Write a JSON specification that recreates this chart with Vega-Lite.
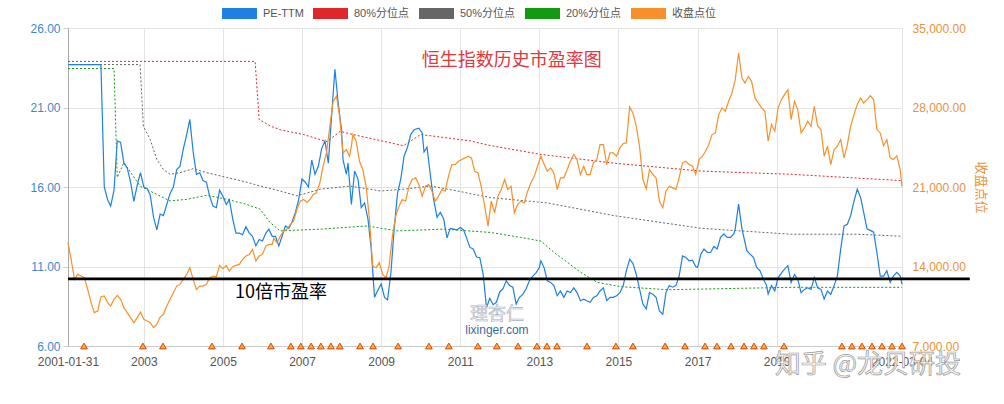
{
  "$schema": "https://vega.github.io/schema/vega-lite/v6.json",
  "width": 834,
  "height": 318,
  "autosize": {"type": "none"},
  "padding": {"left": 68, "top": 28, "right": 102, "bottom": 58},
  "background": "white",
  "config": {
    "font": "Liberation Sans, Noto Sans CJK SC",
    "view": {"stroke": null},
    "legend": {
      "orient": "none",
      "legendX": 157,
      "legendY": -29,
      "direction": "horizontal",
      "gridAlign": "none",
      "title": null,
      "labelFontSize": 11,
      "labelColor": "#555555",
      "labelFont": "Liberation Sans, Noto Sans CJK SC",
      "labelOffset": 9,
      "columnPadding": -13,
      "symbolType": "M-2,0H2",
      "symbolSize": 306,
      "symbolStrokeWidth": 11,
      "symbolDash": [1, 0],
      "symbolOpacity": 1
    }
  },
  "datasets": {
    "pe": [
      {"date":"2001-01-31","v":23.7},{"date":"2001-12-01","v":23.7},{"date":"2002-01-01","v":16.0},{"date":"2002-02-01","v":15.2},{"date":"2002-03-01","v":14.8},{"date":"2002-04-01","v":15.8},{"date":"2002-05-01","v":18.9},{"date":"2002-06-01","v":18.8},{"date":"2002-07-01","v":17.5},{"date":"2002-08-01","v":17.2},{"date":"2002-09-01","v":16.3},{"date":"2002-10-01","v":15.1},{"date":"2002-11-01","v":16.1},{"date":"2002-12-01","v":16.9},
      {"date":"2003-01-01","v":16.0},{"date":"2003-02-01","v":15.9},{"date":"2003-03-01","v":15.5},{"date":"2003-04-01","v":14.1},{"date":"2003-05-01","v":13.3},{"date":"2003-06-01","v":14.3},{"date":"2003-07-01","v":14.2},{"date":"2003-08-01","v":14.9},{"date":"2003-09-01","v":15.6},{"date":"2003-10-01","v":16.0},{"date":"2003-11-01","v":17.1},{"date":"2003-12-01","v":17.3},
      {"date":"2004-01-01","v":18.4},{"date":"2004-02-01","v":19.3},{"date":"2004-03-01","v":20.25},{"date":"2004-04-01","v":18.2},{"date":"2004-05-01","v":16.8},{"date":"2004-06-01","v":16.9},{"date":"2004-07-01","v":16.4},{"date":"2004-08-01","v":16.3},{"date":"2004-09-01","v":15.4},{"date":"2004-10-01","v":14.8},{"date":"2004-11-01","v":14.7},{"date":"2004-12-01","v":15.8},
      {"date":"2005-01-01","v":15.4},{"date":"2005-02-01","v":14.9},{"date":"2005-03-01","v":15.2},{"date":"2005-04-01","v":14.0},{"date":"2005-05-01","v":13.1},{"date":"2005-06-01","v":13.1},{"date":"2005-07-01","v":13.0},{"date":"2005-08-01","v":13.5},{"date":"2005-09-01","v":13.1},{"date":"2005-10-01","v":12.9},{"date":"2005-11-01","v":12.3},{"date":"2005-12-01","v":12.7},
      {"date":"2006-01-01","v":12.6},{"date":"2006-02-01","v":13.1},{"date":"2006-03-01","v":13.35},{"date":"2006-04-01","v":12.9},{"date":"2006-05-01","v":12.9},{"date":"2006-06-01","v":12.3},{"date":"2006-07-01","v":12.9},{"date":"2006-08-01","v":13.55},{"date":"2006-09-01","v":13.4},{"date":"2006-10-01","v":13.8},{"date":"2006-11-01","v":14.4},{"date":"2006-12-01","v":15.2},
      {"date":"2007-01-01","v":16.5},{"date":"2007-02-01","v":16.3},{"date":"2007-03-01","v":16.0},{"date":"2007-04-01","v":17.7},{"date":"2007-05-01","v":16.8},{"date":"2007-06-01","v":17.3},{"date":"2007-07-01","v":18.4},{"date":"2007-08-01","v":18.9},{"date":"2007-09-01","v":17.5},{"date":"2007-10-01","v":20.45},{"date":"2007-11-01","v":23.4},{"date":"2007-12-01","v":21.3},
      {"date":"2008-01-01","v":19.6},{"date":"2008-01-15","v":17.7},{"date":"2008-02-15","v":16.8},{"date":"2008-03-01","v":17.5},{"date":"2008-04-01","v":14.9},{"date":"2008-05-01","v":17.0},{"date":"2008-06-01","v":16.5},{"date":"2008-07-01","v":14.7},{"date":"2008-08-01","v":15.0},{"date":"2008-09-01","v":14.0},{"date":"2008-10-01","v":12.1},{"date":"2008-11-01","v":9.06},{"date":"2008-12-01","v":9.5},
      {"date":"2009-01-01","v":9.9},{"date":"2009-02-01","v":9.06},{"date":"2009-03-01","v":8.9},{"date":"2009-04-01","v":10.6},{"date":"2009-05-01","v":13.35},{"date":"2009-06-01","v":15.6},{"date":"2009-07-01","v":16.5},{"date":"2009-08-01","v":17.95},{"date":"2009-09-01","v":18.5},{"date":"2009-10-01","v":19.3},{"date":"2009-11-01","v":19.6},{"date":"2009-12-15","v":19.7},
      {"date":"2010-01-15","v":19.4},{"date":"2010-02-01","v":18.2},{"date":"2010-03-01","v":18.5},{"date":"2010-04-01","v":16.7},{"date":"2010-05-01","v":15.2},{"date":"2010-06-01","v":14.1},{"date":"2010-07-01","v":14.4},{"date":"2010-08-01","v":14.0},{"date":"2010-09-01","v":12.8},{"date":"2010-10-01","v":13.4},{"date":"2010-11-01","v":13.35},{"date":"2010-12-01","v":13.3},
      {"date":"2011-01-01","v":13.45},{"date":"2011-02-01","v":13.3},{"date":"2011-03-01","v":12.8},{"date":"2011-04-01","v":12.2},{"date":"2011-05-01","v":12.1},{"date":"2011-06-01","v":11.6},{"date":"2011-07-01","v":11.55},{"date":"2011-08-01","v":10.5},{"date":"2011-09-01","v":8.4},{"date":"2011-10-01","v":9.0},{"date":"2011-11-01","v":8.6},{"date":"2011-12-01","v":8.75},
      {"date":"2012-01-01","v":9.4},{"date":"2012-02-01","v":9.6},{"date":"2012-03-01","v":10.1},{"date":"2012-04-01","v":9.8},{"date":"2012-05-01","v":9.7},{"date":"2012-06-01","v":8.64},{"date":"2012-07-01","v":9.06},{"date":"2012-08-01","v":9.25},{"date":"2012-09-01","v":9.6},{"date":"2012-10-01","v":10.1},{"date":"2012-11-01","v":10.4},{"date":"2012-12-01","v":10.6},
      {"date":"2013-01-01","v":10.94},{"date":"2013-01-15","v":11.36},{"date":"2013-02-15","v":10.9},{"date":"2013-03-15","v":10.1},{"date":"2013-04-15","v":10.0},{"date":"2013-05-15","v":9.8},{"date":"2013-06-15","v":9.16},{"date":"2013-07-15","v":9.46},{"date":"2013-08-15","v":9.06},{"date":"2013-09-15","v":9.46},{"date":"2013-10-15","v":9.36},{"date":"2013-11-15","v":9.66},{"date":"2013-12-15","v":9.36},
      {"date":"2014-01-15","v":8.85},{"date":"2014-02-15","v":8.95},{"date":"2014-03-15","v":8.85},{"date":"2014-04-15","v":8.75},{"date":"2014-05-15","v":9.06},{"date":"2014-06-15","v":9.16},{"date":"2014-07-15","v":9.46},{"date":"2014-08-15","v":9.66},{"date":"2014-09-15","v":8.85},{"date":"2014-10-15","v":9.06},{"date":"2014-11-15","v":9.06},{"date":"2014-12-15","v":9.16},
      {"date":"2015-01-15","v":9.36},{"date":"2015-02-15","v":9.8},{"date":"2015-03-15","v":10.73},{"date":"2015-04-15","v":11.46},{"date":"2015-05-15","v":11.2},{"date":"2015-06-15","v":10.5},{"date":"2015-07-15","v":9.6},{"date":"2015-08-15","v":8.64},{"date":"2015-09-15","v":8.33},{"date":"2015-10-15","v":9.36},{"date":"2015-11-15","v":9.25},{"date":"2015-12-15","v":9.06},
      {"date":"2016-01-15","v":8.2},{"date":"2016-02-15","v":8.0},{"date":"2016-03-15","v":9.36},{"date":"2016-04-15","v":9.8},{"date":"2016-05-15","v":9.7},{"date":"2016-06-15","v":9.8},{"date":"2016-07-15","v":10.4},{"date":"2016-08-15","v":11.67},{"date":"2016-09-15","v":11.57},{"date":"2016-10-15","v":11.36},{"date":"2016-11-15","v":11.4},{"date":"2016-12-15","v":11.0},
      {"date":"2017-01-01","v":10.94},{"date":"2017-02-01","v":11.78},{"date":"2017-03-01","v":12.1},{"date":"2017-04-01","v":11.88},{"date":"2017-05-01","v":11.88},{"date":"2017-06-01","v":12.26},{"date":"2017-07-01","v":12.1},{"date":"2017-08-01","v":12.83},{"date":"2017-09-01","v":13.05},{"date":"2017-10-01","v":12.83},{"date":"2017-11-01","v":12.83},{"date":"2017-12-01","v":13.05},{"date":"2017-12-15","v":13.37},
      {"date":"2018-01-15","v":14.92},{"date":"2018-02-15","v":13.37},{"date":"2018-04-01","v":12.0},{"date":"2018-05-01","v":11.78},{"date":"2018-06-01","v":11.57},{"date":"2018-07-01","v":10.94},{"date":"2018-08-01","v":10.73},{"date":"2018-09-01","v":10.2},{"date":"2018-10-01","v":9.8},{"date":"2018-10-15","v":9.27},{"date":"2018-11-15","v":9.8},{"date":"2018-12-15","v":9.46},
      {"date":"2019-01-15","v":10.3},{"date":"2019-03-01","v":10.73},{"date":"2019-04-15","v":11.05},{"date":"2019-05-15","v":10.0},{"date":"2019-06-15","v":10.5},{"date":"2019-07-15","v":10.2},{"date":"2019-08-15","v":9.36},{"date":"2019-09-15","v":9.56},{"date":"2019-10-15","v":9.66},{"date":"2019-11-15","v":9.56},{"date":"2019-12-15","v":10.3},
      {"date":"2020-01-15","v":9.66},{"date":"2020-02-15","v":9.56},{"date":"2020-03-15","v":8.95},{"date":"2020-04-15","v":9.46},{"date":"2020-05-15","v":9.25},{"date":"2020-06-15","v":9.8},{"date":"2020-07-15","v":10.4},{"date":"2020-08-15","v":12.1},{"date":"2020-09-15","v":13.55},{"date":"2020-10-15","v":13.66},{"date":"2020-11-15","v":14.2},{"date":"2020-12-15","v":15.1},
      {"date":"2021-01-15","v":15.86},{"date":"2021-02-15","v":15.33},{"date":"2021-03-15","v":14.4},{"date":"2021-04-15","v":13.37},{"date":"2021-05-15","v":13.27},{"date":"2021-06-15","v":13.16},{"date":"2021-07-15","v":11.88},{"date":"2021-08-15","v":10.4},{"date":"2021-09-15","v":10.4},{"date":"2021-10-15","v":10.73},{"date":"2021-11-15","v":10.0},{"date":"2021-12-15","v":10.4},
      {"date":"2022-01-15","v":10.63},{"date":"2022-02-15","v":10.4},{"date":"2022-03-04","v":9.88}
    ],
    "pct": [
      {"s":"80%分位点","date":"2001-01-31","v":23.9},{"s":"80%分位点","date":"2005-10-25","v":23.9},{"s":"80%分位点","date":"2005-12-01","v":20.25},{"s":"80%分位点","date":"2006-03-15","v":19.83},{"s":"80%分位点","date":"2006-06-15","v":19.6},{"s":"80%分位点","date":"2007-01-15","v":19.3},{"s":"80%分位点","date":"2007-08-20","v":18.85},{"s":"80%分位点","date":"2007-12-20","v":19.5},{"s":"80%分位点","date":"2008-04-15","v":19.3},{"s":"80%分位点","date":"2009-07-25","v":18.6},{"s":"80%分位点","date":"2010-01-01","v":19.3},{"s":"80%分位点","date":"2011-04-05","v":18.9},{"s":"80%分位点","date":"2011-10-10","v":18.6},{"s":"80%分位点","date":"2013-01-15","v":18.05},{"s":"80%分位点","date":"2014-11-20","v":17.5},{"s":"80%分位点","date":"2017-02-05","v":17.0},{"s":"80%分位点","date":"2019-05-15","v":16.8},{"s":"80%分位点","date":"2022-03-04","v":16.4},
      {"s":"50%分位点","date":"2001-01-31","v":23.7},{"s":"50%分位点","date":"2002-11-28","v":23.7},{"s":"50%分位点","date":"2002-12-28","v":19.83},{"s":"50%分位点","date":"2003-02-28","v":19.0},{"s":"50%分位点","date":"2003-05-01","v":17.74},{"s":"50%分位点","date":"2003-07-01","v":17.1},{"s":"50%分位点","date":"2003-09-01","v":16.8},{"s":"50%分位点","date":"2003-12-01","v":16.9},{"s":"50%分位点","date":"2004-04-01","v":17.15},{"s":"50%分位点","date":"2004-08-05","v":16.9},{"s":"50%分位点","date":"2005-02-05","v":16.6},{"s":"50%分位点","date":"2005-08-10","v":16.3},{"s":"50%分位点","date":"2005-12-12","v":16.06},{"s":"50%分位点","date":"2006-06-12","v":15.75},{"s":"50%分位点","date":"2006-11-15","v":15.44},{"s":"50%分位点","date":"2007-06-20","v":15.86},{"s":"50%分位点","date":"2008-03-20","v":16.06},{"s":"50%分位点","date":"2008-12-25","v":15.75},{"s":"50%分位点","date":"2009-07-25","v":15.86},{"s":"50%分位点","date":"2010-04-01","v":16.06},{"s":"50%分位点","date":"2010-12-05","v":15.75},{"s":"50%分位点","date":"2011-10-10","v":15.33},{"s":"50%分位点","date":"2013-03-15","v":15.0},{"s":"50%分位点","date":"2014-11-20","v":14.2},{"s":"50%分位点","date":"2017-02-05","v":13.4},{"s":"50%分位点","date":"2019-05-15","v":13.03},{"s":"50%分位点","date":"2021-01-20","v":13.03},{"s":"50%分位点","date":"2022-03-04","v":12.9},
      {"s":"20%分位点","date":"2001-01-31","v":23.45},{"s":"20%分位点","date":"2002-04-01","v":23.45},{"s":"20%分位点","date":"2002-05-01","v":16.6},{"s":"20%分位点","date":"2002-07-01","v":17.53},{"s":"20%分位点","date":"2002-11-28","v":16.06},{"s":"20%分位点","date":"2003-03-28","v":15.65},{"s":"20%分位点","date":"2003-09-01","v":15.12},{"s":"20%分位点","date":"2004-02-05","v":15.23},{"s":"20%分位点","date":"2004-08-05","v":15.48},{"s":"20%分位点","date":"2005-02-05","v":15.23},{"s":"20%分位点","date":"2005-08-10","v":14.9},{"s":"20%分位点","date":"2005-12-12","v":14.6},{"s":"20%分位点","date":"2006-03-12","v":13.77},{"s":"20%分位点","date":"2006-06-12","v":13.24},{"s":"20%分位点","date":"2007-06-20","v":13.35},{"s":"20%分位点","date":"2008-08-25","v":13.55},{"s":"20%分位点","date":"2009-05-28","v":13.24},{"s":"20%分位点","date":"2010-08-01","v":13.35},{"s":"20%分位点","date":"2011-10-10","v":13.14},{"s":"20%分位点","date":"2012-07-12","v":12.83},{"s":"20%分位点","date":"2013-01-15","v":12.6},{"s":"20%分位点","date":"2013-05-15","v":11.9},{"s":"20%分位点","date":"2014-01-18","v":10.63},{"s":"20%分位点","date":"2014-06-20","v":10.0},{"s":"20%分位点","date":"2015-01-25","v":9.73},{"s":"20%分位点","date":"2016-04-01","v":9.54},{"s":"20%分位点","date":"2019-05-15","v":9.69},{"s":"20%分位点","date":"2022-03-04","v":9.69}
    ],
    "close": [
      {"date":"2001-01-31","c":16093},{"date":"2001-03-01","c":14624},{"date":"2001-04-01","c":12866},{"date":"2001-05-01","c":13305},{"date":"2001-06-01","c":13158},{"date":"2001-07-01","c":13014},{"date":"2001-08-01","c":11986},{"date":"2001-09-01","c":10816},{"date":"2001-10-01","c":9937},{"date":"2001-11-01","c":10083},{"date":"2001-12-01","c":11344},
      {"date":"2002-01-01","c":11400},{"date":"2002-02-01","c":10816},{"date":"2002-03-01","c":10517},{"date":"2002-04-01","c":11107},{"date":"2002-05-01","c":11458},{"date":"2002-06-01","c":11107},{"date":"2002-07-01","c":10377},{"date":"2002-08-01","c":9937},{"date":"2002-09-01","c":9497},{"date":"2002-10-01","c":9057},{"date":"2002-11-01","c":9497},{"date":"2002-12-01","c":9992},
      {"date":"2003-01-01","c":9348},{"date":"2003-02-01","c":9205},{"date":"2003-03-01","c":9057},{"date":"2003-04-01","c":8618},{"date":"2003-05-01","c":8911},{"date":"2003-06-01","c":9553},{"date":"2003-07-01","c":9790},{"date":"2003-08-01","c":10517},{"date":"2003-09-01","c":11107},{"date":"2003-10-01","c":11696},{"date":"2003-11-01","c":12276},{"date":"2003-12-01","c":12423},
      {"date":"2004-01-01","c":12866},{"date":"2004-02-01","c":13305},{"date":"2004-03-01","c":13895},{"date":"2004-04-01","c":12866},{"date":"2004-05-01","c":11986},{"date":"2004-06-01","c":12276},{"date":"2004-07-01","c":12276},{"date":"2004-08-01","c":12423},{"date":"2004-09-01","c":13014},{"date":"2004-10-01","c":13158},{"date":"2004-11-01","c":13100},{"date":"2004-12-01","c":14097},
      {"date":"2005-01-01","c":13805},{"date":"2005-02-01","c":14097},{"date":"2005-03-01","c":13600},{"date":"2005-04-01","c":13980},{"date":"2005-05-01","c":14097},{"date":"2005-06-01","c":14185},{"date":"2005-07-01","c":14624},{"date":"2005-08-01","c":14917},{"date":"2005-09-01","c":15064},{"date":"2005-10-01","c":15504},{"date":"2005-11-01","c":14478},{"date":"2005-12-01","c":14917},
      {"date":"2006-01-01","c":15064},{"date":"2006-02-01","c":15797},{"date":"2006-03-01","c":15944},{"date":"2006-04-01","c":15944},{"date":"2006-04-15","c":16500},{"date":"2006-05-15","c":16090},{"date":"2006-06-15","c":16680},{"date":"2006-07-15","c":17120},{"date":"2006-08-15","c":17267},{"date":"2006-09-15","c":17703},{"date":"2006-10-15","c":17993},{"date":"2006-11-15","c":19022},{"date":"2006-12-15","c":19752},
      {"date":"2007-01-15","c":19898},{"date":"2007-02-15","c":19660},{"date":"2007-03-15","c":19898},{"date":"2007-04-15","c":20341},{"date":"2007-05-15","c":20486},{"date":"2007-06-15","c":21370},{"date":"2007-07-15","c":22830},{"date":"2007-08-15","c":24007},{"date":"2007-09-15","c":26347},{"date":"2007-10-15","c":28500},{"date":"2007-11-15","c":29000},{"date":"2007-12-15","c":27200},
      {"date":"2008-01-15","c":24007},{"date":"2008-02-15","c":24298},{"date":"2008-03-15","c":23708},{"date":"2008-04-01","c":24590},{"date":"2008-04-15","c":25617},{"date":"2008-05-15","c":25028},{"date":"2008-06-15","c":23269},{"date":"2008-07-15","c":22540},{"date":"2008-08-15","c":21071},{"date":"2008-09-15","c":18142},{"date":"2008-10-15","c":14035},{"date":"2008-11-15","c":13895},{"date":"2008-12-15","c":14334},
      {"date":"2009-01-15","c":13305},{"date":"2009-02-15","c":13014},{"date":"2009-03-15","c":14035},{"date":"2009-04-15","c":16680},{"date":"2009-05-15","c":18433},{"date":"2009-06-15","c":19313},{"date":"2009-07-15","c":19898},{"date":"2009-08-15","c":19752},{"date":"2009-09-15","c":21071},{"date":"2009-10-15","c":21659},{"date":"2009-11-15","c":21804},{"date":"2009-12-15","c":21218},
      {"date":"2010-01-15","c":20191},{"date":"2010-02-15","c":21071},{"date":"2010-03-15","c":21218},{"date":"2010-04-15","c":20633},{"date":"2010-05-15","c":19752},{"date":"2010-06-15","c":20191},{"date":"2010-07-15","c":20779},{"date":"2010-08-15","c":20633},{"date":"2010-09-15","c":21950},{"date":"2010-10-15","c":22976},{"date":"2010-11-15","c":22976},{"date":"2010-12-15","c":23269},
      {"date":"2011-01-15","c":23418},{"date":"2011-02-15","c":23562},{"date":"2011-03-15","c":23708},{"date":"2011-04-15","c":23562},{"date":"2011-05-15","c":22390},{"date":"2011-06-15","c":22244},{"date":"2011-07-15","c":21000},{"date":"2011-08-15","c":19313},{"date":"2011-09-15","c":17553},{"date":"2011-10-15","c":19752},{"date":"2011-11-15","c":18730},{"date":"2011-12-15","c":20191},
      {"date":"2012-01-15","c":20779},{"date":"2012-02-15","c":21659},{"date":"2012-03-15","c":20779},{"date":"2012-04-15","c":21071},{"date":"2012-05-15","c":18730},{"date":"2012-06-15","c":19460},{"date":"2012-07-15","c":19752},{"date":"2012-08-15","c":19604},{"date":"2012-09-15","c":20633},{"date":"2012-10-15","c":21370},{"date":"2012-11-15","c":21950},{"date":"2012-12-15","c":22830},
      {"date":"2013-01-15","c":23708},{"date":"2013-02-15","c":22976},{"date":"2013-03-15","c":22390},{"date":"2013-04-15","c":22683},{"date":"2013-05-15","c":22244},{"date":"2013-06-15","c":20779},{"date":"2013-07-15","c":21810},{"date":"2013-08-15","c":21810},{"date":"2013-09-15","c":22540},{"date":"2013-10-15","c":23269},{"date":"2013-11-15","c":23858},{"date":"2013-12-15","c":23418},
      {"date":"2014-01-15","c":22097},{"date":"2014-02-15","c":22830},{"date":"2014-03-15","c":22097},{"date":"2014-04-15","c":22097},{"date":"2014-05-15","c":23128},{"date":"2014-06-15","c":23418},{"date":"2014-07-15","c":24737},{"date":"2014-08-15","c":24737},{"date":"2014-09-15","c":22976},{"date":"2014-10-15","c":24007},{"date":"2014-11-15","c":24007},{"date":"2014-12-15","c":23708},
      {"date":"2015-01-15","c":24447},{"date":"2015-02-15","c":24835},{"date":"2015-03-15","c":24885},{"date":"2015-04-15","c":28053},{"date":"2015-05-15","c":27525},{"date":"2015-06-15","c":26347},{"date":"2015-07-15","c":24590},{"date":"2015-08-15","c":21659},{"date":"2015-09-15","c":20842},{"date":"2015-10-15","c":22540},{"date":"2015-11-15","c":22097},{"date":"2015-12-15","c":21810},
      {"date":"2016-01-15","c":19752},{"date":"2016-02-15","c":19171},{"date":"2016-03-15","c":20633},{"date":"2016-04-15","c":21071},{"date":"2016-05-15","c":20925},{"date":"2016-06-15","c":20779},{"date":"2016-07-15","c":21810},{"date":"2016-08-15","c":23128},{"date":"2016-09-15","c":23269},{"date":"2016-10-15","c":22976},{"date":"2016-11-15","c":22830},{"date":"2016-12-15","c":22097},
      {"date":"2017-01-15","c":23418},{"date":"2017-02-15","c":23708},{"date":"2017-03-15","c":24150},{"date":"2017-04-15","c":24737},{"date":"2017-05-15","c":25617},{"date":"2017-06-15","c":25760},{"date":"2017-07-15","c":27376},{"date":"2017-08-15","c":27965},{"date":"2017-09-15","c":27670},{"date":"2017-10-15","c":28545},{"date":"2017-11-15","c":29284},{"date":"2017-12-15","c":30453},
      {"date":"2018-01-15","c":32800},{"date":"2018-02-15","c":30603},{"date":"2018-03-15","c":30163},{"date":"2018-04-15","c":30744},{"date":"2018-05-15","c":30310},{"date":"2018-06-15","c":28844},{"date":"2018-07-15","c":28400},{"date":"2018-08-15","c":27965},{"date":"2018-09-15","c":27670},{"date":"2018-10-15","c":25028},{"date":"2018-11-15","c":26496},{"date":"2018-12-15","c":25906},
      {"date":"2019-01-15","c":27965},{"date":"2019-02-15","c":28695},{"date":"2019-03-15","c":29136},{"date":"2019-04-15","c":29574},{"date":"2019-05-15","c":26936},{"date":"2019-06-15","c":28545},{"date":"2019-07-15","c":27815},{"date":"2019-08-15","c":25760},{"date":"2019-09-15","c":26200},{"date":"2019-10-15","c":26787},{"date":"2019-11-15","c":26347},{"date":"2019-12-15","c":28110},
      {"date":"2020-01-15","c":26347},{"date":"2020-02-15","c":26057},{"date":"2020-03-15","c":23708},{"date":"2020-04-15","c":24590},{"date":"2020-05-15","c":22976},{"date":"2020-06-15","c":24298},{"date":"2020-07-15","c":24590},{"date":"2020-08-15","c":25174},{"date":"2020-09-15","c":23562},{"date":"2020-10-15","c":24737},{"date":"2020-11-15","c":26347},{"date":"2020-12-15","c":27376},
      {"date":"2021-01-15","c":28255},{"date":"2021-02-15","c":28844},{"date":"2021-03-15","c":28400},{"date":"2021-04-15","c":28695},{"date":"2021-05-15","c":29047},{"date":"2021-06-15","c":28695},{"date":"2021-07-15","c":26057},{"date":"2021-08-15","c":25760},{"date":"2021-09-15","c":24640},{"date":"2021-10-15","c":25174},{"date":"2021-11-15","c":23562},{"date":"2021-12-15","c":23418},
      {"date":"2022-01-15","c":23760},{"date":"2022-02-15","c":22540},{"date":"2022-03-04","c":21071}
    ],
    "events": [
      {"date":"2001-06-28","v":6},{"date":"2002-12-24","v":6},{"date":"2003-06-27","v":6},{"date":"2004-09-21","v":6},{"date":"2005-06-26","v":6},{"date":"2006-03-20","v":6},{"date":"2006-09-20","v":6},{"date":"2006-12-21","v":6},{"date":"2007-03-26","v":6},{"date":"2007-06-24","v":6},{"date":"2007-09-25","v":6},{"date":"2007-12-16","v":6},{"date":"2008-06-20","v":6},{"date":"2008-10-18","v":6},{"date":"2009-06-06","v":6},{"date":"2010-03-18","v":6},{"date":"2010-09-18","v":6},{"date":"2011-06-13","v":6},{"date":"2011-12-05","v":6},{"date":"2012-06-18","v":6},{"date":"2012-12-10","v":6},{"date":"2013-03-12","v":6},{"date":"2013-06-13","v":6},{"date":"2014-03-17","v":6},{"date":"2014-12-09","v":6},{"date":"2015-05-15","v":6},{"date":"2016-03-07","v":6},{"date":"2016-09-07","v":6},{"date":"2017-03-11","v":6},{"date":"2017-06-29","v":6},{"date":"2017-11-06","v":6},{"date":"2018-03-06","v":6},{"date":"2018-06-06","v":6},{"date":"2018-09-06","v":6},{"date":"2019-03-10","v":6},{"date":"2020-08-26","v":6},{"date":"2020-11-26","v":6},{"date":"2021-02-27","v":6},{"date":"2021-05-31","v":6},{"date":"2021-08-31","v":6},{"date":"2021-12-01","v":6},{"date":"2022-03-04","v":6}
    ]
  },
  "encoding": {
    "x": {
      "field": "date",
      "type": "temporal",
      "scale": {"type": "utc", "domain": [{"year": 2001, "month": 1, "date": 31, "utc": true}, {"year": 2022, "month": 3, "date": 4, "utc": true}]},
      "axis": {
        "title": null,
        "values": [
          {"year": 2001, "month": 1, "date": 31, "utc": true},
          {"year": 2003, "month": 1, "date": 1, "utc": true},
          {"year": 2005, "month": 1, "date": 1, "utc": true},
          {"year": 2007, "month": 1, "date": 1, "utc": true},
          {"year": 2009, "month": 1, "date": 1, "utc": true},
          {"year": 2011, "month": 1, "date": 1, "utc": true},
          {"year": 2013, "month": 1, "date": 1, "utc": true},
          {"year": 2015, "month": 1, "date": 1, "utc": true},
          {"year": 2017, "month": 1, "date": 1, "utc": true},
          {"year": 2019, "month": 1, "date": 1, "utc": true},
          {"year": 2022, "month": 3, "date": 4, "utc": true}
        ],
        "labelExpr": "utcdate(datum.value) == 1 && utcmonth(datum.value) == 0 ? utcFormat(datum.value, '%Y') : utcFormat(datum.value, '%Y-%m-%d')",
        "labelFlush": false,
        "labelOverlap": false,
        "labelColor": "#555555",
        "labelFontSize": 12,
        "labelPadding": 10,
        "ticks": false,
        "grid": true,
        "gridColor": "#e3e3e3",
        "domainColor": "#cccccc"
      }
    }
  },
  "layer": [
    {
      "encoding": {
        "y": {
          "field": "v",
          "type": "quantitative",
          "scale": {"domain": [6, 26], "nice": false, "zero": false},
          "axis": {
            "orient": "left",
            "title": null,
            "values": [6, 11, 16, 21, 26],
            "format": ".2f",
            "labelColor": "#3a8ad0",
            "labelFontSize": 12,
            "labelPadding": 3,
            "tickSize": 5,
            "tickColor": "#cccccc",
            "domainColor": "#aaaaaa",
            "gridColor": "#e3e3e3"
          }
        }
      },
      "layer": [
        {
          "data": {"name": "pct"},
          "mark": {"type": "line", "strokeWidth": 1, "strokeDash": [2, 2]},
          "encoding": {
            "color": {
              "field": "s",
              "type": "nominal",
              "scale": {"domain": ["PE-TTM", "80%分位点", "50%分位点", "20%分位点", "收盘点位"], "range": ["#1f7fe3", "#e0262b", "#666666", "#129a12", "#f7902a"]},
              "legend": {"title": null}
            }
          }
        },
        {
          "data": {"name": "pe"},
          "mark": {"type": "line", "strokeWidth": 1.2},
          "encoding": {
            "color": {
              "datum": "PE-TTM",
              "type": "nominal",
              "scale": {"domain": ["PE-TTM", "80%分位点", "50%分位点", "20%分位点", "收盘点位"], "range": ["#1f7fe3", "#e0262b", "#666666", "#129a12", "#f7902a"]},
              "legend": {"title": null}
            }
          }
        }
      ]
    },
    {
      "data": {"name": "close"},
      "mark": {"type": "line", "strokeWidth": 1.2},
      "encoding": {
        "y": {
          "field": "c",
          "type": "quantitative",
          "scale": {"domain": [7000, 35000], "nice": false, "zero": false},
          "axis": {
            "orient": "right",
            "values": [7000, 14000, 21000, 28000, 35000],
            "format": ",.2f",
            "labelColor": "#e8913a",
            "labelFontSize": 12,
            "labelPadding": 10,
            "ticks": false,
            "domain": false,
            "grid": false,
            "title": "收盘点位",
            "titleColor": "#e8913a",
            "titleFont": "Noto Sans CJK SC",
            "titleFontSize": 13,
            "titleFontWeight": "normal",
            "titlePadding": 8
          }
        },
        "color": {
          "datum": "收盘点位",
          "type": "nominal",
          "scale": {"domain": ["PE-TTM", "80%分位点", "50%分位点", "20%分位点", "收盘点位"], "range": ["#1f7fe3", "#e0262b", "#666666", "#129a12", "#f7902a"]},
          "legend": {"title": null}
        }
      }
    },
    {
      "encoding": {
        "y": {
          "field": "v",
          "type": "quantitative",
          "scale": {"domain": [6, 26], "nice": false, "zero": false},
          "axis": null
        }
      },
      "layer": [
        {
          "data": {"values": [{"date": "2001-01-31", "date2": "2023-11-20", "v": 10.22}]},
          "mark": {"type": "rule", "color": "#000000", "strokeWidth": 2.6},
          "encoding": {"x2": {"field": "date2"}}
        },
        {
          "data": {"name": "events"},
          "mark": {"type": "point", "shape": "triangle-up", "filled": true, "fill": "#ffad33", "stroke": "#d9480f", "strokeWidth": 1, "size": 45, "opacity": 1}
        },
        {
          "data": {"values": [{"date": "2012-04-20", "v": 23.95, "text": "恒生指数历史市盈率图"}]},
          "mark": {"type": "text", "font": "Noto Sans CJK SC", "fontSize": 18, "color": "#e0383e", "align": "center", "baseline": "middle"},
          "encoding": {"text": {"field": "text"}}
        },
        {
          "data": {"values": [{"date": "2005-04-23", "v": 9.33, "text": "10倍市盈率"}]},
          "mark": {"type": "text", "font": "Noto Sans CJK SC", "fontSize": 18, "color": "#000000", "align": "left", "baseline": "middle"},
          "encoding": {"text": {"field": "text"}}
        },
        {
          "data": {"values": [{"date": "2011-12-06", "v": 7.95, "text": "理杏仁"}]},
          "mark": {"type": "text", "font": "Noto Sans CJK SC", "fontSize": 18, "fill": "#f2f2f2", "stroke": "#a8b4c0", "strokeWidth": 0.6, "align": "center", "baseline": "middle"},
          "encoding": {"text": {"field": "text"}}
        },
        {
          "data": {"values": [{"date": "2011-12-06", "v": 7.0, "text": "lixinger.com"}]},
          "mark": {"type": "text", "fontSize": 12, "color": "#3b6a9a", "align": "center", "baseline": "middle"},
          "encoding": {"text": {"field": "text"}}
        },
        {
          "data": {"values": [{"date": "2021-04-23", "v": 4.81, "text": "知乎 @龙贝研投"}]},
          "mark": {"type": "text", "font": "Noto Sans CJK SC", "fontSize": 26, "fill": "#f7f7f7", "stroke": "#9a9a9a", "strokeWidth": 0.7, "align": "center", "baseline": "middle"},
          "encoding": {"text": {"field": "text"}}
        }
      ]
    }
  ],
  "resolve": {"scale": {"y": "independent"}}
}
